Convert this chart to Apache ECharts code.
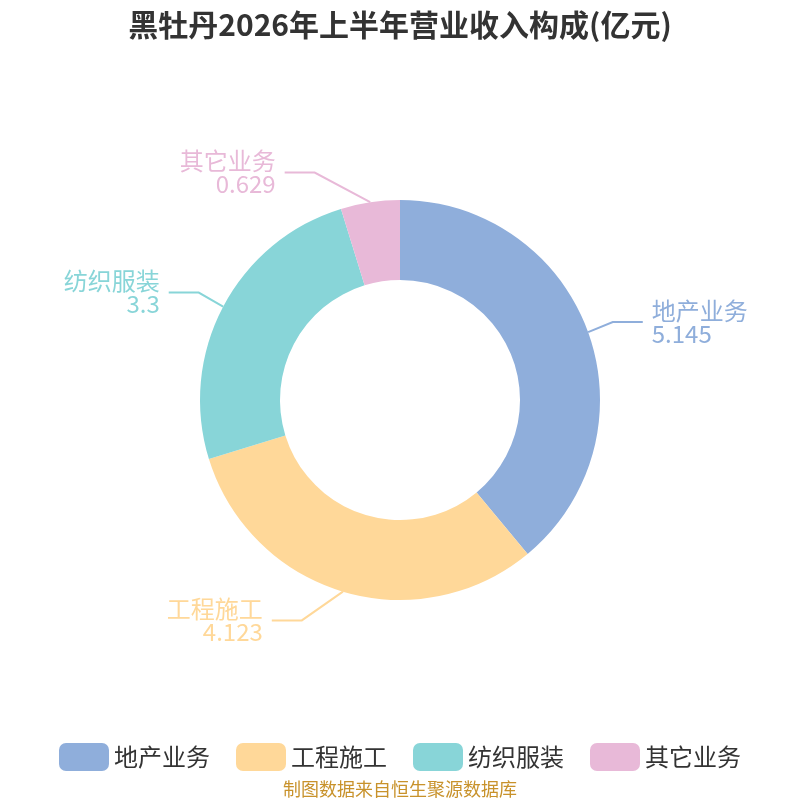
<!DOCTYPE html>
<html style="height: 100%">
<head>
<meta charset="utf-8">
</head>
<body style="height: 100%; margin: 0">
<div id="container" style="width: 800px; height: 800px"></div>
<script type="text/javascript" src="https://cdn.jsdelivr.net/npm/echarts@6/dist/echarts.min.js"></script>
<script type="text/javascript">
var categories = ['地产业务', '工程施工', '纺织服装', '其它业务'];
var values = [5.145, 4.123, 3.3, 0.629];
var colors = ['#8FAEDB', '#FFD899', '#88D5D8', '#E8B9D8'];

// pie geometry and label ring (labels sit on a circle round the pie)
var CX = 400, CY = 400, R_IN = 120, R_OUT = 200;
var LEN = 30, LEN2 = 30, RING = 255, GAP = 9;

var chart = echarts.init(document.getElementById('container'));
var data = categories.map(function (name, i) {
    return { name: name, value: values[i] };
});

// move each label out onto the ring, keeping the y the library gave it
function placeLabel(params) {
    var pts = params.labelLinePoints;
    if (!pts) return;
    var p0 = pts[0], p1 = pts[1];
    var dir = p1[0] < CX ? -1 : 1;
    var y = p1[1];
    var dy = y - CY;
    var dx = Math.sqrt(Math.max(RING * RING - dy * dy, 0));
    var endX = CX + dir * dx;
    return {
        x: endX + dir * GAP,
        y: y,
        align: dir < 0 ? 'right' : 'left',
        verticalAlign: 'middle',
        labelLinePoints: [p0, [endX - dir * LEN2, y], [endX, y]]
    };
}

chart.setOption({
    color: colors,
    textStyle: { fontFamily: 'Noto Sans CJK SC' },
    title: {
        text: '黑牡丹2026年上半年营业收入构成(亿元)',
        left: 'center',
        top: 5,
        textStyle: { fontSize: 30, fontWeight: 'bold', color: '#333' }
    },
    legend: {
        top: 738,
        left: 'center',
        itemWidth: 50,
        itemHeight: 28,
        itemGap: 26,
        itemStyle: { borderRadius: 8 },
        textStyle: { fontSize: 24, color: '#333' },
        data: categories
    },
    graphic: [{
        type: 'text',
        left: 'center',
        top: 780,
        style: {
            text: '制图数据来自恒生聚源数据库',
            fill: '#C8922B',
            fontSize: 18,
            fontFamily: 'Noto Sans CJK SC'
        }
    }],
    series: [{
        type: 'pie',
        center: [CX, CY],
        radius: [R_IN, R_OUT],
        startAngle: 90,
        data: data,
        label: {
            formatter: '{b}\n{c}',
            fontSize: 24,
            lineHeight: 23,
            color: 'inherit'
        },
        labelLine: {
            length: LEN,
            length2: LEN2,
            lineStyle: { width: 2 }
        },
        labelLayout: placeLabel,
        emphasis: { disabled: true }
    }]
});
</script>
</body>
</html>
